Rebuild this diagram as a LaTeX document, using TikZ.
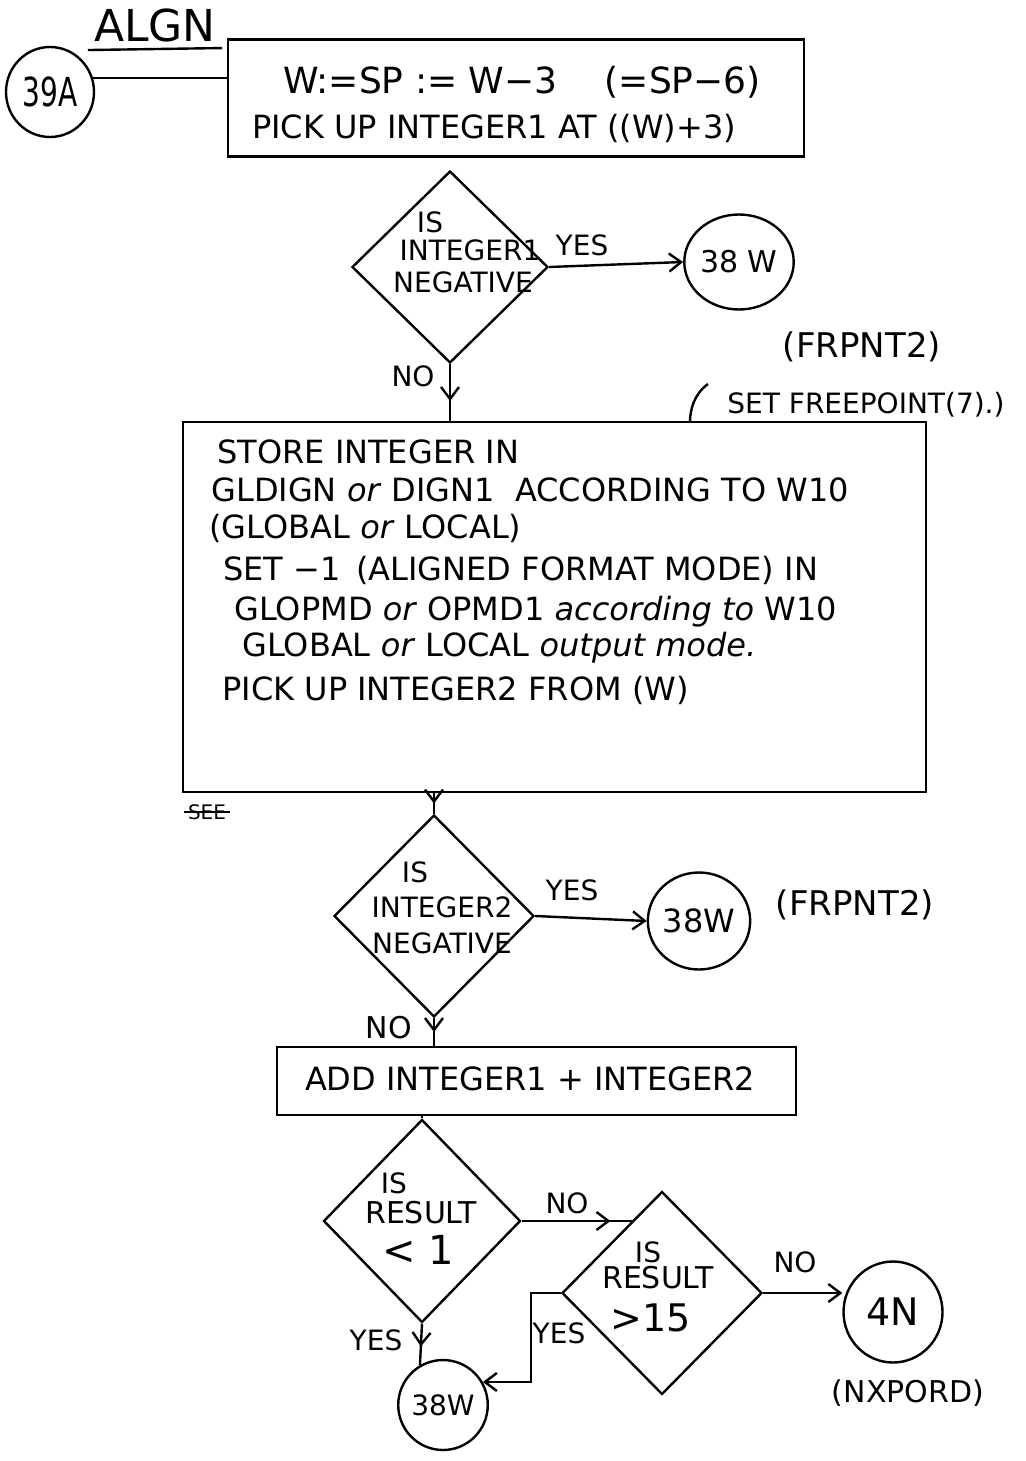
\documentclass[tikz,border=0pt]{standalone}
\usepackage{fontspec}
\usepackage{graphicx}
\newfontfamily\hand{DejaVu Sans}
\usetikzlibrary{shapes.geometric,arrows.meta,decorations.markings,calc}
\begin{document}
\begin{tikzpicture}[x=0.5pt,y=-0.5pt,
  ink/.style={line width=1.2pt, draw=black},
  tip/.style={-{Straight Barb[length=6pt,width=9pt]}},
  midtip/.style={decoration={markings, mark=at position #1 with {\arrow{Straight Barb[length=6pt,width=9pt]}}}, postaction={decorate}},
  txt/.style={font=\hand\fontsize{#1}{#1}\selectfont, inner sep=0pt},
  dia/.style={ink, diamond, inner sep=0pt},
  circ/.style={ink, ellipse, inner sep=0pt},
  boxx/.style={ink, rectangle, inner sep=0pt}
]
\fill[white] (0,0) rectangle (1026,1461);
\useasboundingbox (0,0) rectangle (1026,1461);

% header
\node[txt=22] (algn) at (155,25) {ALGN};
\draw[ink] ([xshift=-3pt,yshift=-4pt]algn.south west) -- ([xshift=3pt,yshift=-3pt]algn.south east);
\node[circ, txt=20, minimum width=44pt, minimum height=45pt] (c39) at (50,92) {\scalebox{0.7}[1]{39A}};

% box 1
\node[boxx, minimum width=288pt, minimum height=58.5pt] (box1) at (516,98) {};
\node[txt=18] (b1l1) at (522,82) {W:=SP := W−3 \quad (=SP−6)};
\node[txt=16] (b1l2) at (494,128) {PICK UP INTEGER1 AT ((W)+3)};
\draw[ink] (c39.18) -- (c39.18 -| box1.west);

% decision 1
\node[dia, minimum width=98pt, minimum height=96pt] (d1) at (450,267) {};
\node[txt=14] (d1is) at (430,222) {IS};
\node[txt=14] (d1a) at (470,250) {INTEGER1};
\node[txt=14] (d1b) at (463,282) {NEGATIVE};
\node[txt=14] (d1yes) at (582,245) {YES};
\node[circ, txt=15, minimum width=49pt, minimum height=47.5pt] (c38a) at (739,262) {38 W};
\draw[ink, tip] (d1.east) -- (c38a.west);
\node[txt=17] (fr1) at (862,347) {(FRPNT2)};
\node[txt=14] (sfp) at (866,405) {SET FREEPOINT(7).)};
\draw[ink] (708,384) .. controls (694,394) and (690,410) .. (690,422);
\node[txt=14] (d1no) at (413,376) {NO};

% box 2
\node[boxx, minimum width=371.5pt, minimum height=185pt] (box2) at (554.5,607) {};
\draw[ink, midtip=0.65] (d1.south) -- (d1.south |- box2.north);
\node[txt=16, anchor=west] (l1) at (217,452) {STORE INTEGER IN};
\node[txt=16, anchor=west] (l2) at (211,490) {GLDIGN \textit{or} DIGN1 \ ACCORDING TO W10};
\node[txt=16, anchor=west] (l3) at (209,528) {(GLOBAL \textit{or} LOCAL)};
\node[txt=16, anchor=west] (l4) at (223,570) {SET −1 \,(ALIGNED FORMAT MODE) IN};
\node[txt=16, anchor=west] (l5) at (234,612) {GLOPMD \textit{or} OPMD1 \textit{according to} W10};
\node[txt=16, anchor=west] (l6) at (242,648) {GLOBAL \textit{or} LOCAL \textit{output mode.}};
\node[txt=16, anchor=west] (l7) at (222,690) {PICK UP INTEGER2 FROM (W)};
\node[txt=10] (see) at (207,812) {SEE};
\draw[ink, line width=0.8pt] ([xshift=-2pt]see.west) -- ([xshift=2pt]see.east);

% decision 2
\node[dia, minimum width=100pt, minimum height=101pt] (d2) at (434,916) {};
\draw[ink, midtip=0.5] (box2.south -| d2.north) -- (d2.north);
\node[txt=14] (d2is) at (415,872) {IS};
\node[txt=14] (d2a) at (442,907) {INTEGER2};
\node[txt=14] (d2b) at (442,943) {NEGATIVE};
\node[txt=14] (d2yes) at (572,890) {YES};
\node[circ, txt=16, minimum width=51pt, minimum height=48.5pt] (c38b) at (699,921) {38W};
\draw[ink, tip] (d2.east) -- (c38b.west);
\node[txt=17] (fr2) at (855,905) {(FRPNT2)};
\node[txt=15] (d2no) at (389,1028) {NO};

% box 3
\node[boxx, minimum width=259.5pt, minimum height=34pt] (box3) at (536.5,1081) {};
\node[txt=16] (b3) at (530,1079) {ADD INTEGER1 + INTEGER2};
\draw[ink, midtip=0.5] (d2.south) -- (d2.south |- box3.north);

% decision 3
\node[dia, minimum width=98.5pt, minimum height=101.5pt] (d3) at (422,1221) {};
\draw[ink] (box3.south -| d3.north) -- (d3.north);
\node[txt=14] (d3is) at (394,1183) {IS};
\node[txt=15] (d3a) at (421,1213) {RESULT};
\node[txt=20] (d3b) at (418,1250) {< 1};
\node[txt=14] (d3no) at (567,1203) {NO};

% decision 4
\node[dia, minimum width=100pt, minimum height=101.5pt] (d4) at (662,1293) {};
\coordinate (d4e) at ($(d4.west)!0.71!(d4.north)$);
\draw[ink, midtip=0.8] (d3.east) -- (d3.east -| d4e);
\node[txt=14] (d4is) at (648,1252) {IS};
\node[txt=15] (d4a) at (658,1278) {RESULT};
\node[txt=19] (d4b) at (651,1318) {>15};
\node[txt=14] (d4no) at (795,1262) {NO};
\node[circ, txt=19, minimum width=49.5pt, minimum height=50.5pt] (c4n) at (893,1312) {4N};
\draw[ink, tip] (d4.east) -- (d4.east -| c4n.west);
\node[txt=15] (nx) at (908,1393) {(NXPORD)};

% bottom 38W
\node[circ, txt=14, minimum width=42pt, minimum height=45pt] (c38c) at (443,1405) {38W};
\node[txt=14] (d3yes) at (376,1340) {YES};
\draw[ink, midtip=0.55] (d3.south) -- (c38c.120);
\node[txt=14] (d4yes) at (559,1333) {YES};
\draw[ink, tip] (d4.west) -- ++(-30,0) |- (c38c.30);
\end{tikzpicture}
\end{document}
